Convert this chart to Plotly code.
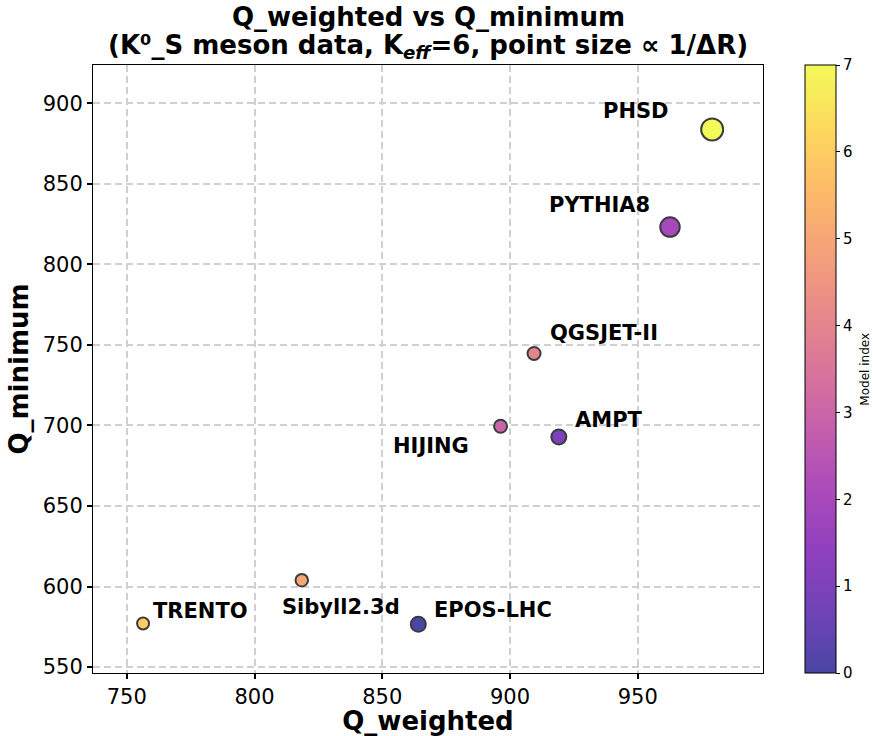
import plotly.graph_objects as go

# ---------------- data ----------------
models = ["EPOS-LHC", "AMPT", "PYTHIA8", "HIJING", "QGSJET-II", "Sibyll2.3d", "TRENTO", "PHSD"]
model_index = [0, 1, 2, 3, 4, 5, 6, 7]
q_weighted = [864.1, 919.1, 962.6, 896.3, 909.4, 818.5, 756.4, 979.1]
q_minimum = [576.5, 692.9, 823.2, 699.5, 744.7, 603.9, 577.0, 883.8]
inv_delta_r = [15.0, 15.0, 19.5, 13.0, 13.0, 12.5, 12.0, 22.0]  # relative 1/ΔR (arb. units)

# ---------------- styling ----------------
FONT = "DejaVu Sans"
ALPHA = 0.75
plasma = ["#0d0887", "#41049d", "#6a00a8", "#8f0da4", "#b12a90", "#cc4778",
          "#e16462", "#f2844b", "#fca636", "#fcce25", "#f0f921"]


def blend(h, a=ALPHA):
    h = h.lstrip("#")
    r, g, b = (int(h[i:i + 2], 16) for i in (0, 2, 4))
    return "rgb(%d,%d,%d)" % tuple(round(a * c + (1 - a) * 255) for c in (r, g, b))


colorscale = [[i / (len(plasma) - 1), blend(c)] for i, c in enumerate(plasma)]
size_scale = 1.0
marker_sizes = [v * size_scale for v in inv_delta_r]

# plot-area geometry (px)
L, R, T, B = 93, 763.3, 65, 672.7
W, H = 873, 736


def py_to_paper(p):
    return (B - p) / (B - T)


def px_to_paper(p):
    return (p - L) / (R - L)


# label offsets in pixels: (xanchor, xshift, yshift)
label_style = {
    "EPOS-LHC": ("left", 14, 14),
    "AMPT": ("left", 14, 17),
    "PYTHIA8": ("right", -18, 22),
    "HIJING": ("right", -30, -20),
    "QGSJET-II": ("left", 14, 20),
    "Sibyll2.3d": ("center", 39, -27),
    "TRENTO": ("left", 8, 13),
    "PHSD": ("right", -41, 18),
}

fig = go.Figure()
fig.add_trace(go.Scatter(
    x=q_weighted, y=q_minimum, mode="markers",
    text=models,
    marker=dict(
        size=marker_sizes, opacity=1,
        color=model_index, cmin=0, cmax=7, colorscale=colorscale,
        line=dict(color="#3c3c3c", width=2),
        showscale=True,
        colorbar=dict(
            thickness=30.5, len=1, lenmode="fraction", y=0.5, yanchor="middle",
            x=px_to_paper(805.3), xanchor="left", xpad=0, ypad=0,
            outlinewidth=1, outlinecolor="black",
            ticks="outside", ticklen=4, tickwidth=1, tickcolor="black",
            tickvals=list(range(8)),
            tickfont=dict(family=FONT, size=15, color="black"),
        ),
    ),
    showlegend=False,
))

annotations = []
for name, xv, yv in zip(models, q_weighted, q_minimum):
    xa, xs, ys = label_style[name]
    annotations.append(dict(
        x=xv, y=yv, xref="x", yref="y", text="<b>%s</b>" % name,
        showarrow=False, xanchor=xa, yanchor="middle", xshift=xs, yshift=ys,
        font=dict(family=FONT, size=21, color="black"),
    ))

annotations.append(dict(
    x=px_to_paper(865), y=0.5, xref="paper", yref="paper", text="Model index",
    showarrow=False, textangle=-90, xanchor="center", yanchor="middle",
    font=dict(family=FONT, size=12, color="black"),
))

# two-line title
annotations.append(dict(
    x=0.5, y=py_to_paper(17), xref="paper", yref="paper",
    text="<b>Q_weighted vs Q_minimum</b>",
    showarrow=False, xanchor="center", yanchor="middle",
    font=dict(family=FONT, size=26, color="black"),
))
annotations.append(dict(
    x=0.5, y=py_to_paper(47), xref="paper", yref="paper",
    text="<b>(K⁰_S meson data, K<sub><i>eff</i></sub>=6, point size ∝ 1/ΔR)</b>",
    showarrow=False, xanchor="center", yanchor="middle",
    font=dict(family=FONT, size=26, color="black"),
))

axis_common = dict(
    showline=True, linecolor="black", linewidth=1, mirror=True,
    ticks="outside", ticklen=5, tickwidth=1.5, tickcolor="black",
    showgrid=True, gridcolor="#d0d0d0", gridwidth=1.5, griddash="7px,4px",
    zeroline=False, automargin=False,
    tickfont=dict(family=FONT, size=21, color="black"),
)

fig.update_layout(
    width=W, height=H,
    margin=dict(l=L, r=W - R, t=T, b=H - B, autoexpand=False),
    paper_bgcolor="white", plot_bgcolor="white",
    xaxis=dict(
        range=[736.8, 999.0], tickvals=[750, 800, 850, 900, 950],
        title=dict(text="<b>Q_weighted</b>", font=dict(family=FONT, size=26, color="black"), standoff=5),
        **axis_common,
    ),
    yaxis=dict(
        range=[546.3, 923.8], tickvals=[550, 600, 650, 700, 750, 800, 850, 900],
        title=dict(text="<b>Q_minimum</b>", font=dict(family=FONT, size=26, color="black"), standoff=6),
        **axis_common,
    ),
    annotations=annotations,
)

fig.write_html(
    "out.html",
    config={"displayModeBar": False},
    post_script="document.body.style.margin='0';document.body.style.overflow='hidden';",
)
